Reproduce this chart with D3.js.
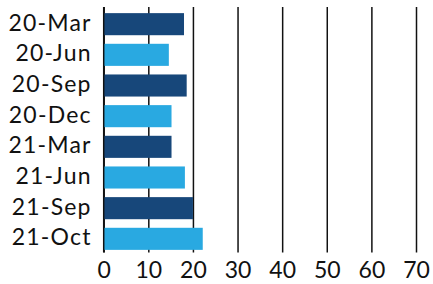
<!DOCTYPE html>
<html>
<head>
<meta charset="utf-8">
<script src="https://cdn.jsdelivr.net/npm/d3@7"></script>
<style>
  body { margin: 0; background: #fff; }
  svg { display: block; }
  text { font-family: Lato, "Open Sans", sans-serif; fill: #111; }
</style>
</head>
<body>
<div id="chart-area"></div>
<script>
// data
var categories = ["20-Mar", "20-Jun", "20-Sep", "20-Dec", "21-Mar", "21-Jun", "21-Sep", "21-Oct"];
var values = [18.0, 14.6, 18.6, 15.2, 15.2, 18.2, 20.0, 22.2];
var xTicks = [0, 10, 20, 30, 40, 50, 60, 70];
var colors = ["#17477a", "#29a9e1"];

var width = 433, height = 284;
var plotTop = 7, plotBottom = 252.5;

var svg = d3.select("#chart-area").append("svg")
    .attr("width", width)
    .attr("height", height);

var x = d3.scaleLinear()
    .domain([0, 70])
    .range([103.7, 416]);

var y = d3.scaleBand()
    .domain(categories)
    .range([7, 256])
    .paddingInner(0.28)
    .paddingOuter(0.2);

// gridlines + bottom labels
var xAxis = svg.append("g")
    .attr("transform", "translate(0," + plotBottom + ")")
    .call(d3.axisBottom(x)
        .tickValues(xTicks)
        .tickSize(-(plotBottom - plotTop))
        .tickPadding(6));
xAxis.select(".domain").remove();
xAxis.selectAll("line")
    .attr("stroke", "#111")
    .attr("stroke-width", 1.5);
xAxis.selectAll("text")
    .attr("font-size", "23px")
    .attr("dy", "0.85em");

// bars
svg.selectAll(".bar")
    .data(values)
    .enter().append("rect")
    .attr("class", "bar")
    .attr("x", x(0))
    .attr("y", function (d, i) { return y(categories[i]); })
    .attr("width", function (d) { return x(d) - x(0); })
    .attr("height", y.bandwidth())
    .attr("fill", function (d, i) { return colors[i % 2]; });

// zero line on top of the bars
svg.append("line")
    .attr("x1", x(0)).attr("x2", x(0))
    .attr("y1", plotTop).attr("y2", plotBottom)
    .attr("stroke", "#111")
    .attr("stroke-width", 1.5);

// category labels
var yAxis = svg.append("g")
    .attr("transform", "translate(" + x(0) + ",0)")
    .call(d3.axisLeft(y).tickSize(0).tickPadding(12));
yAxis.select(".domain").remove();
yAxis.selectAll("text")
    .attr("font-size", "23px")
    .attr("letter-spacing", "1.2px")
    .attr("dy", "0.28em");
</script>
</body>
</html>
